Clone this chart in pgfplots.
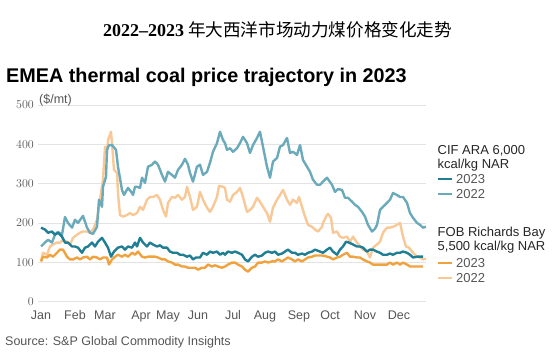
\documentclass[border=0pt]{standalone}
\usepackage{pgfplots}
\pgfplotsset{compat=1.18}
\usepackage{fontspec}
\setmainfont{Liberation Sans}
\newfontfamily\cjk{Noto Sans CJK SC}
\newfontfamily\titleserif{Liberation Serif}
\definecolor{araD}{HTML}{1F7E94}
\definecolor{araL}{HTML}{6AAABA}
\definecolor{fobD}{HTML}{F0A23E}
\definecolor{fobL}{HTML}{F8C896}
\definecolor{tickc}{HTML}{555555}
\definecolor{gridc}{HTML}{E3E3E3}
\begin{document}
\begin{tikzpicture}[x=1pt,y=1pt]
\useasboundingbox (0,0) rectangle (558,362);
\begin{axis}[at={(38pt,60.5pt)}, anchor=south west, scale only axis,
  width=388pt, height=196.5pt, xmin=38, xmax=426, ymin=0, ymax=500,
  axis line style={draw=none}, major tick length=0pt,
  ytick={0,100,200,300,400,500},
  xtick={41,75,105,141,168,198,233,265,299,330,365,399},
  xticklabels={Jan,Feb,Mar,Apr,May,Jun,Jul,Aug,Sep,Oct,Nov,Dec},
  ymajorgrids, grid style={gridc, line width=0.8pt},
  tick label style={font=\fontsize{12.5}{14}\selectfont, text=tickc},
  yticklabel style={inner sep=0pt, xshift=-4pt},
  xticklabel style={inner sep=0pt, yshift=-9pt},
  clip=false,
  every axis plot/.append style={line width=2.4pt, line join=round},
  no markers]
% 2022 FOB Richards Bay
\addplot[fobL] coordinates {(41,102)(43,124)(47,119)(50,140)(53,145)(57,150)(60,150)(63,157)(67,152)(70,145)(73,162)(77,170)(80,175)(83,178)(87,178)(90,175)(93,183)(97,208)(100,259)(103,310)(105,394)(107,378)(108,411)(111,432)(112,403)(114,335)(117,327)(118,276)(120,220)(123,216)(127,220)(130,225)(133,220)(137,225)(140,241)(143,233)(147,259)(150,266)(153,266)(157,271)(160,259)(163,233)(166,216)(168,251)(172,266)(175,264)(178,271)(182,259)(185,266)(187,292)(190,266)(193,233)(197,241)(200,279)(203,259)(207,239)(210,228)(213,241)(217,266)(219,294)(223,292)(225,289)(227,259)(230,254)(233,271)(237,279)(240,289)(243,266)(247,228)(250,233)(253,241)(257,264)(260,254)(263,241)(267,225)(270,203)(273,239)(277,259)(280,271)(283,284)(287,259)(290,246)(293,259)(297,251)(299,266)(302,241)(305,216)(308,195)(312,190)(315,183)(318,178)(322,190)(323,200)(327,220)(328,223)(331,213)(333,175)(337,178)(340,165)(343,162)(347,165)(350,152)(353,165)(357,150)(360,140)(363,132)(367,127)(370,112)(373,137)(377,145)(380,152)(383,175)(387,188)(390,188)(393,190)(397,195)(400,200)(403,165)(406,140)(409,137)(413,124)(417,114)(420,112)(423,107)(426,109)};
% 2022 CIF ARA
\addplot[araL] coordinates {(41,140)(45,150)(48,157)(52,150)(55,170)(58,177)(62,170)(65,215)(68,200)(72,188)(75,208)(78,200)(83,218)(87,188)(90,175)(93,172)(97,190)(99,259)(102,241)(103,292)(106,317)(107,386)(109,398)(112,398)(116,386)(118,343)(122,284)(124,271)(128,289)(132,276)(133,271)(135,292)(137,292)(140,289)(142,315)(145,302)(148,343)(152,348)(155,356)(158,348)(162,322)(165,305)(168,330)(172,322)(175,315)(178,335)(182,348)(185,363)(188,348)(190,327)(193,305)(197,343)(200,348)(203,322)(207,330)(210,353)(213,381)(217,403)(220,432)(223,411)(225,403)(227,386)(230,390)(233,381)(237,390)(240,403)(243,419)(247,403)(250,378)(253,398)(257,416)(260,432)(263,394)(267,343)(270,315)(273,356)(277,365)(280,394)(283,398)(287,416)(290,378)(293,381)(297,373)(300,398)(303,360)(307,343)(310,330)(313,310)(317,297)(320,297)(323,305)(327,315)(332,297)(335,279)(338,286)(342,284)(345,264)(348,264)(352,254)(355,246)(358,241)(362,228)(365,216)(368,195)(372,178)(375,185)(377,195)(380,233)(383,241)(387,251)(390,259)(393,276)(397,271)(400,266)(403,266)(407,251)(410,225)(413,213)(417,200)(420,195)(423,188)(426,190)};
% 2023 FOB Richards Bay
\addplot[fobD] coordinates {(41,102)(43,114)(47,112)(50,119)(53,114)(57,124)(60,132)(63,132)(67,114)(70,107)(73,107)(77,112)(80,107)(83,112)(87,114)(90,107)(93,114)(97,112)(100,107)(103,112)(107,112)(109,94)(112,107)(115,114)(118,119)(122,114)(125,119)(128,114)(132,124)(135,119)(138,127)(142,114)(145,112)(148,114)(152,114)(155,114)(158,112)(162,107)(165,107)(168,102)(172,99)(175,94)(178,94)(182,89)(185,89)(188,86)(192,86)(195,86)(198,81)(202,86)(205,86)(208,94)(212,89)(215,92)(218,89)(222,86)(225,89)(228,94)(232,99)(235,99)(238,94)(242,89)(245,81)(248,76)(252,86)(255,89)(258,99)(262,99)(265,102)(268,99)(272,102)(275,102)(278,107)(282,102)(285,107)(288,112)(292,107)(295,102)(298,107)(302,102)(305,107)(308,112)(312,114)(315,117)(318,117)(322,117)(325,116)(327,114)(330,112)(333,107)(337,112)(340,114)(343,119)(347,124)(350,114)(353,114)(357,112)(360,112)(363,107)(367,102)(370,99)(373,94)(377,94)(380,94)(383,94)(387,94)(390,99)(393,94)(397,99)(400,94)(403,99)(407,94)(410,89)(413,89)(417,89)(420,89)(423,89)};
% 2023 CIF ARA
\addplot[araD] coordinates {(41,188)(45,183)(48,175)(52,178)(55,170)(58,175)(62,165)(65,150)(68,150)(72,140)(75,140)(78,137)(82,124)(85,137)(88,140)(92,150)(95,140)(98,152)(102,162)(105,150)(108,137)(111,114)(114,127)(118,137)(122,140)(125,132)(128,140)(132,137)(135,150)(137,140)(140,162)(143,150)(147,140)(150,150)(153,145)(157,140)(160,143)(163,137)(167,137)(170,127)(173,124)(177,124)(180,119)(183,119)(187,114)(190,117)(193,107)(196,112)(200,112)(203,124)(207,119)(210,127)(213,124)(217,127)(220,119)(223,124)(225,119)(228,127)(232,124)(235,127)(238,124)(242,119)(245,107)(248,102)(252,114)(255,119)(258,114)(262,117)(265,124)(268,127)(272,124)(275,127)(278,119)(282,122)(285,127)(288,132)(292,124)(295,124)(298,119)(302,122)(305,119)(308,124)(312,127)(315,132)(318,129)(320,127)(323,124)(327,132)(330,137)(333,127)(337,119)(340,132)(343,140)(346,152)(349,150)(353,145)(357,140)(360,140)(363,137)(367,127)(370,132)(373,132)(377,127)(380,124)(383,119)(387,119)(390,122)(393,119)(397,124)(400,124)(403,127)(407,124)(410,119)(413,112)(417,114)(420,114)(423,114)};
\end{axis}
% titles
\node[anchor=west, inner sep=0pt] at (103,332.5) {{\titleserif\bfseries\fontsize{18}{20}\selectfont 2022–2023}\hspace{4pt}{\cjk\fontsize{17.6}{20}\selectfont 年大西洋市场动力煤价格变化走势}};
\node[anchor=base west, inner sep=0pt, font=\bfseries\fontsize{19.8}{24}\selectfont] at (6,279) {EMEA thermal coal price trajectory in 2023};
\node[anchor=west, inner sep=0pt, text=tickc, font=\fontsize{12.5}{14}\selectfont] at (39,262) {(\$/mt)};
\node[anchor=base west, inner sep=0pt, text=tickc, font=\fontsize{12.5}{14}\selectfont] at (5,16.5) {Source: S\&P Global Commodity Insights};
% legend
\begin{scope}[every node/.style={anchor=base west, inner sep=0pt, font=\fontsize{13}{15}\selectfont}]
\node[text=black!85] at (437.5,207.3) {CIF ARA 6,000};
\node[text=black!85] at (437.5,193.3) {kcal/kg NAR};
\node[text=tickc] at (456,178.3) {2023};
\node[text=tickc] at (456,163.3) {2022};
\node[text=black!85] at (437.5,125.3) {FOB Richards Bay};
\node[text=black!85] at (437.5,111.3) {5,500 kcal/kg NAR};
\node[text=tickc] at (456,94.3) {2023};
\node[text=tickc] at (456,79.3) {2022};
\end{scope}
\draw[araD, line width=2.6pt] (438,183) -- (452,183);
\draw[araL, line width=2.6pt] (438,168) -- (452,168);
\draw[fobD, line width=2.6pt] (438,99) -- (452,99);
\draw[fobL, line width=2.6pt] (438,84) -- (452,84);
\end{tikzpicture}
\end{document}
